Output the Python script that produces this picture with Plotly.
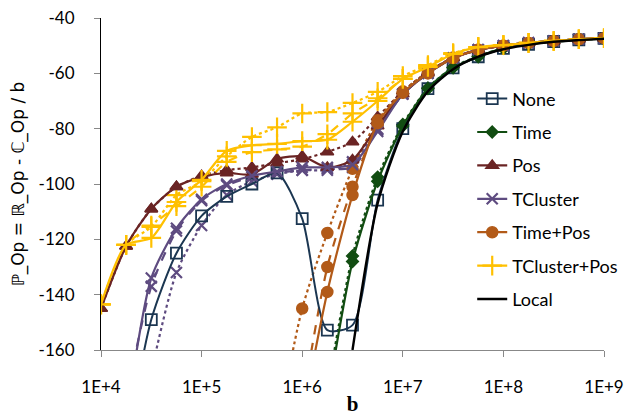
import plotly.graph_objects as go

# x values (b), quarter-decade steps
b = [1e4, 1.778e4, 3.162e4, 5.623e4, 1e5, 1.778e5, 3.162e5, 5.623e5, 1e6,
     1.778e6, 3.162e6, 5.623e6, 1e7, 1.778e7, 3.162e7, 5.623e7, 1e8,
     1.778e8, 3.162e8, 5.623e8, 1e9]

none_v = [None, -195, -149, -125, -111.5, -104.5, -100, -96, -112.5,
          -152.8, -151, -105.8, -80, -65.5, -58, -54, -51, -49.5, -48.5, -47.9, -47.4]
time_v = [None, None, None, None, None, None, None, None, None,
          -178, -128, -99, -79, -65.5, -58, -54, -51, -49.5, -48.5, -47.9, -47.4]
time_dot = [None, None, None, None, None, None, None, None, None,
            -175, -126, -97.5, -78.5, -65.3, -57.8, -53.8, -50.9, -49.5, -48.5, -47.9, -47.4]
pos_v = [-145, -122.5, -109, -101, -97.5, -96, -96.5, -91, -90,
         -94, -91.3, -79, -67.5, -60, -54.5, -51.5, -50, -49, -48.3, -47.7, -47.3]
pos_dot = [-145, -122.5, -109, -101, -97, -95, -94, -92.5, -91,
           -88.4, -84.8, -75.8, -66.5, -59.5, -54.3, -51.5, -50, -49, -48.3, -47.7, -47.3]
tcl_v = [None, -185, -134, -116, -105.5, -100, -97, -95.5, -94,
         -94, -93, -81, -67.5, -60, -54.5, -51.5, -50, -49, -48.3, -47.7, -47.3]
tcl_dash = [None, -178, -137, -117, -106, -100.5, -97.5, -96, -95,
            -94.5, -94, -80.5, -67.5, -60, -54.5, -51.5, -50, -49, -48.3, -47.7, -47.3]
tcl_dot = [None, None, -168, -132, -115, -104, -99, -96.5, -95,
           -95, -92, -80, -67.5, -60, -54.5, -51.5, -50, -49, -48.3, -47.7, -47.3]
tp_v = [None, None, None, None, None, None, None, None, -185,
        -139, -104, -78, -67, -60, -54.5, -51.5, -50, -49, -48.3, -47.7, -47.3]
tp_dash = [None, None, None, None, None, None, None, None, -180,
           -130, -101, -78.5, -67, -60, -54.5, -51.5, -50, -49, -48.3, -47.7, -47.3]
tp_dot = [None, None, None, None, None, None, None, -190, -145,
          -117.7, -94.5, -77, -66.5, -59.5, -54.3, -51.5, -50, -49, -48.3, -47.7, -47.3]
tcp_v = [-143.5, -122, -119.5, -106.5, -98.5, -88, -86, -85.5, -84.5,
         -84, -77.5, -70, -62, -57.7, -53, -50.5, -49.8, -49, -48.3, -47.7, -47.3]
tcp_dash = [-143.5, -122, -115, -108, -101, -92, -88.5, -87.5, -86.5,
            -82, -74.5, -69, -62, -57.5, -53, -50.5, -49.8, -49, -48.3, -47.7, -47.3]
tcp_dot = [-143.5, -122, -115.5, -104, -99, -90, -83, -79.5, -74.5,
           -74, -70.7, -66.7, -61, -57, -52.7, -50.5, -49.8, -49, -48.3, -47.7, -47.3]
local_v = [None, None, None, None, None, None, None, None, None,
           None, -160, -107, -81, -66.5, -58.5, -54, -51.3, -49.7, -48.6, -48, -47.5]

x_tickvals = [1e4, 1e5, 1e6, 1e7, 1e8, 1e9]
x_ticktext = ["1E+4", "1E+5", "1E+6", "1E+7", "1E+8", "1E+9"]
y_tickvals = [-160, -140, -120, -100, -80, -60, -40]
y_ticktext = ["-160", "-140", "-120", "-100", "-80", "-60", "-40"]

C_NONE = "#1B3651"
C_TIME = "#124D12"
C_POS = "#6A2424"
C_TCL = "#5E4B80"
C_TP = "#B25A18"
C_TCP = "#FFC000"
C_LOCAL = "#000000"

fig = go.Figure()


def add(name, y, color, symbol, size, dash="solid", legend=False, mlw=1.5,
        mfill=None, width=2.2):
    marker = dict(symbol=symbol, size=size, color=mfill if mfill else color,
                  line=dict(color=color, width=mlw))
    fig.add_trace(go.Scatter(
        x=b, y=y, name=name, mode="lines+markers" if symbol else "lines",
        line=dict(color=color, width=width, dash=dash, shape="spline", smoothing=0.7),
        marker=marker, showlegend=legend, legendgroup=name + dash,
        connectgaps=False, cliponaxis=True))


# variants (not in legend)
add("Time", time_dot, C_TIME, "diamond", 9, dash="dot")
add("Pos", pos_dot, C_POS, "triangle-up", 11, dash="dot")
add("TCluster", tcl_dash, C_TCL, "x-thin-open", 11, dash="dash", mlw=2.2)
add("TCluster", tcl_dot, C_TCL, "x-thin-open", 11, dash="dot", mlw=2.2)
add("Time+Pos", tp_dash, C_TP, "circle", 11, dash="dash")
add("Time+Pos", tp_dot, C_TP, "circle", 11, dash="dot")
add("TCluster+Pos", tcp_dash, C_TCP, "cross-thin-open", 14, dash="dash", mlw=2.2)
add("TCluster+Pos", tcp_dot, C_TCP, "cross-thin-open", 14, dash="dot", mlw=2.2)

# main series
add("None", none_v, C_NONE, "square-open", 11, legend=True, mlw=1.8, width=2)
add("Time", time_v, C_TIME, "diamond", 9, legend=True)
add("Pos", pos_v, C_POS, "triangle-up", 11, legend=True)
add("TCluster", tcl_v, C_TCL, "x-thin-open", 11, legend=True, mlw=2.2)
add("Time+Pos", tp_v, C_TP, "circle", 11, legend=True)
add("TCluster+Pos", tcp_v, C_TCP, "cross-thin-open", 14, legend=True, mlw=2.2)
add("Local", local_v, C_LOCAL, None, 0, legend=True, width=2.4)

fig.update_layout(
    width=618, height=408,
    margin=dict(l=93, r=22, t=10, b=66, autoexpand=False),
    paper_bgcolor="white", plot_bgcolor="white",
    font=dict(family="Lato", size=17, color="#000000"),
    showlegend=True,
    legend=dict(x=0.738, y=0.812, xanchor="left", yanchor="top",
                bgcolor="rgba(0,0,0,0)", font=dict(size=18, family="Lato"),
                tracegroupgap=7, traceorder="grouped", itemwidth=30),
    xaxis=dict(type="log", range=[4, 9], tickvals=x_tickvals, ticktext=x_ticktext,
               showgrid=False, zeroline=False, showline=True, linecolor="#888888",
               linewidth=1.2, ticks="outside", ticklen=6, tickcolor="#888888",
               tickfont=dict(size=17), ticklabelstandoff=15, automargin=False,
               ticklabeloverflow="allow",
               title=dict(text="<b>b</b>", font=dict(family="Liberation Serif", size=21),
                          standoff=14)),
    yaxis=dict(range=[-160, -40], tickvals=y_tickvals, ticktext=y_ticktext,
               showgrid=False, zeroline=False,
               showline=True, linecolor="#000000", linewidth=1.2, ticks="outside",
               ticklen=6, tickcolor="#888888", tickfont=dict(size=17),
               ticklabelstandoff=16, automargin=False, ticklabeloverflow="allow",
               title=dict(text="ℙ_Op = ℝ_Op - ℂ_Op / b",
                          font=dict(family="DejaVu Sans", size=17), standoff=12)),
)

fig.write_html("out.html")
